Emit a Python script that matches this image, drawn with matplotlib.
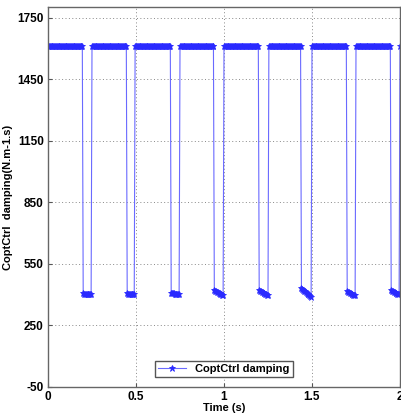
import matplotlib
matplotlib.use("Agg")
import matplotlib.pyplot as plt

plt.rcParams['font.family'] = ['Liberation Sans', 'DejaVu Sans']
plt.rcParams['axes.unicode_minus'] = False

# switching events (s)
fall_times = [0.20, 0.45, 0.70, 0.945, 1.20, 1.44, 1.70, 1.95]
rise_times = [0.25, 0.495, 0.75, 1.00, 1.255, 1.50, 1.75, 2.00]
high_level = 1610
low_start = [405, 405, 408, 420, 420, 430, 415, 420]
low_end = [402, 402, 400, 395, 395, 390, 395, 400]

yticks = [-50, 250, 550, 850, 1150, 1450, 1750]
xticks = [0, 0.5, 1, 1.5, 2]
xticklabels = ['0', '0.5', '1', '1.5', '2']

# sampled signal (dt = 0.005 s)
dt = 0.005
t, y = [], []
cur = 0.0
for f, r, ls, le in zip(fall_times, rise_times, low_start, low_end):
    while cur < f - 1e-9:
        t.append(round(cur, 4)); y.append(high_level); cur += dt
    n = max(int(round((r - f) / dt)), 1)
    for k in range(n):
        t.append(round(cur, 4)); y.append(ls + (le - ls) * k / max(n - 1, 1)); cur += dt
while cur <= 2.0 + 1e-9:
    t.append(round(cur, 4)); y.append(high_level); cur += dt

fig = plt.figure(figsize=(4.01, 4.15), dpi=100)
ax = fig.add_axes([48/401, 28.3/415, 352/401, 379.2/415])

ax.plot(t, y, color='#6a6aff', lw=0.8, marker='*', ms=4.5,
        markeredgecolor='#2a2aff', markerfacecolor='#2a2aff', markeredgewidth=0.6,
        label='CoptCtrl damping')

ax.set_xlim(0, 2)
ax.set_ylim(-50, 1800)
ax.set_yticks(yticks)
ax.set_xticks(xticks)
ax.set_xticklabels(xticklabels)
ax.tick_params(direction='in', labelsize=8.5, length=3, color='#555555', pad=3)
for lab in ax.get_xticklabels() + ax.get_yticklabels():
    lab.set_fontweight('bold')
ax.grid(True, linestyle=(0, (1, 2.5)), color='#888888', linewidth=0.7)
for s in ax.spines.values():
    s.set_color('#666666')
    s.set_linewidth(1.0)

ax.set_xlabel('Time (s)', fontsize=8, fontweight='bold', labelpad=0)
ax.set_ylabel('CoptCtrl  damping(N.m-1.s)', fontsize=8, fontweight='bold', labelpad=3)

leg = ax.legend(loc='lower center', bbox_to_anchor=(0.5, 0.01), fancybox=False,
                prop={'size': 8, 'weight': 'bold'}, handlelength=2.5,
                borderpad=0.3, framealpha=1)
leg.get_frame().set_edgecolor('#555555')
leg.get_frame().set_linewidth(1.0)

fig.savefig('out.png', dpi=100)
